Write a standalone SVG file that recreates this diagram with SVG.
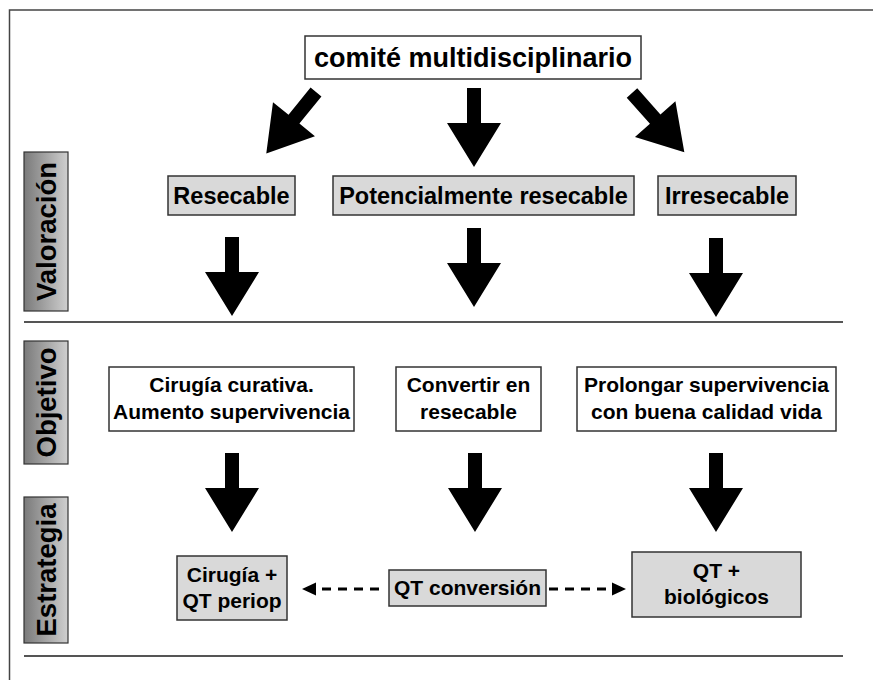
<svg xmlns="http://www.w3.org/2000/svg" width="873" height="680" viewBox="0 0 873 680">
<style>
  .t { font-family: "Liberation Sans", Arial, sans-serif; font-weight: bold; fill: #000; text-anchor: middle; }
  .title { font-size: 27px; }
  .lbl { font-size: 21px; }
  .val { font-size: 23.5px; }
  .side { font-size: 27.5px; }
  .box { stroke: #333; stroke-width: 1.5; }
  .gray { fill: #d9d9d9; }
  .white { fill: #fff; }
  .sidebox { fill: url(#grad); stroke: #333; stroke-width: 1.2; }
  .rule { stroke: #555; stroke-width: 2; }
  .frame { stroke: #444; stroke-width: 1.5; fill: none; }
  .big { fill: #000; }
  .dash { stroke: #000; stroke-width: 3; stroke-dasharray: 9 7; fill: none; }
</style>
<defs>
  <linearGradient id="grad" x1="0" y1="0" x2="1" y2="0">
    <stop offset="0" stop-color="#7a7a7a"/>
    <stop offset="1" stop-color="#cfcfcf"/>
  </linearGradient>
  <path id="arr" d="M-7,0 L7,0 L7,35 L27,35 L0,79 L-27,35 L-7,35 Z"/>
  <marker id="head" markerUnits="userSpaceOnUse" markerWidth="14" markerHeight="14" viewBox="0 0 14 14" refX="13" refY="7" orient="auto">
    <path d="M0,0.5 L14,7 L0,13.5 Z" fill="#000"/>
  </marker>
</defs>
<rect width="873" height="680" fill="#fff"/>
<path class="frame" d="M9.5,680 L9.5,10 L873,10"/>
<line class="rule" x1="24" y1="322" x2="843" y2="322"/>
<line class="rule" x1="24" y1="656" x2="843" y2="656"/>

<g id="side-valoracion">
  <rect class="sidebox" x="24" y="152" width="44" height="159"/>
  <text class="t side" transform="translate(55.5,231.5) rotate(-90)">Valoración</text>
</g>
<g id="side-objetivo">
  <rect class="sidebox" x="24" y="341" width="44" height="123"/>
  <text class="t side" transform="translate(55.5,402.5) rotate(-90)">Objetivo</text>
</g>
<g id="side-estrategia">
  <rect class="sidebox" x="24" y="497" width="44" height="146"/>
  <text class="t side" transform="translate(55.5,570) rotate(-90)">Estrategia</text>
</g>

<g id="comite">
  <rect class="box white" x="305" y="36" width="336" height="43"/>
  <text class="t title" x="473" y="67">comité multidisciplinario</text>
</g>

<g id="resecable">
  <rect class="box gray" x="168" y="176" width="127" height="39"/>
  <text class="t val" x="231.5" y="204">Resecable</text>
</g>
<g id="potencialmente">
  <rect class="box gray" x="333" y="176" width="301" height="39"/>
  <text class="t val" x="483.5" y="204">Potencialmente resecable</text>
</g>
<g id="irresecable">
  <rect class="box gray" x="658" y="176" width="138" height="39"/>
  <text class="t val" x="727" y="204">Irresecable</text>
</g>

<g id="obj-curativa">
  <rect class="box white" x="109" y="367" width="245" height="64"/>
  <text class="t lbl" x="231.5" y="392">Cirugía curativa.</text>
  <text class="t lbl" x="231.5" y="419">Aumento supervivencia</text>
</g>
<g id="obj-convertir">
  <rect class="box white" x="396" y="367" width="145" height="64"/>
  <text class="t lbl" x="468.5" y="392">Convertir en</text>
  <text class="t lbl" x="468.5" y="419">resecable</text>
</g>
<g id="obj-prolongar">
  <rect class="box white" x="577" y="367" width="259" height="64"/>
  <text class="t lbl" x="706.5" y="392">Prolongar supervivencia</text>
  <text class="t lbl" x="706.5" y="419">con buena calidad vida</text>
</g>

<g id="est-cirugia">
  <rect class="box gray" x="177" y="556" width="110" height="64"/>
  <text class="t lbl" x="232" y="582">Cirugía +</text>
  <text class="t lbl" x="232" y="608">QT periop</text>
</g>
<g id="est-conversion">
  <rect class="box gray" x="389" y="570" width="157" height="36"/>
  <text class="t lbl" x="467.5" y="595">QT conversión</text>
</g>
<g id="est-biologicos">
  <rect class="box gray" x="632" y="552" width="169" height="65"/>
  <text class="t lbl" x="716.5" y="578">QT +</text>
  <text class="t lbl" x="716.5" y="604">biológicos</text>
</g>

<g id="connectors">
  <use href="#arr" class="big" transform="translate(316,92) rotate(39)"/>
  <use href="#arr" class="big" transform="translate(474,88)"/>
  <use href="#arr" class="big" transform="translate(632,93) rotate(-41.5)"/>
  <use href="#arr" class="big" transform="translate(232,237)"/>
  <use href="#arr" class="big" transform="translate(474,228)"/>
  <use href="#arr" class="big" transform="translate(716,238)"/>
  <use href="#arr" class="big" transform="translate(232,453)"/>
  <use href="#arr" class="big" transform="translate(475,453)"/>
  <use href="#arr" class="big" transform="translate(716,453)"/>
  <line class="dash" x1="379" y1="589" x2="303" y2="589" marker-end="url(#head)"/>
  <line class="dash" x1="549" y1="589" x2="625" y2="589" marker-end="url(#head)"/>
</g>
</svg>
